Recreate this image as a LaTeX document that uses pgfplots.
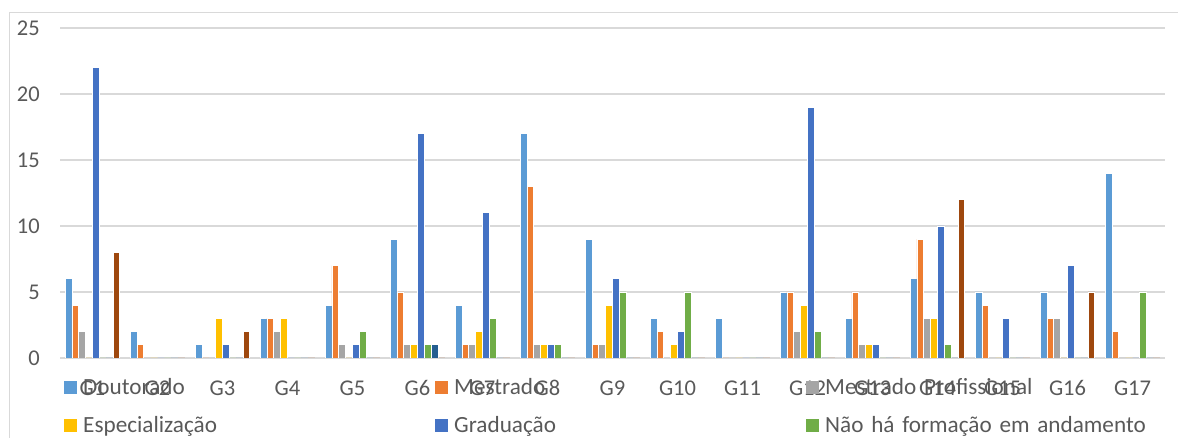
\documentclass[border=0pt]{standalone}
\usepackage{pgfplots}
\pgfplotsset{compat=1.18}
\usepackage{fontspec}
\setmainfont{Carlito}
\definecolor{c1}{HTML}{5B9BD5}
\definecolor{c2}{HTML}{ED7D31}
\definecolor{c3}{HTML}{A5A5A5}
\definecolor{c4}{HTML}{FFC000}
\definecolor{c5}{HTML}{4472C4}
\definecolor{c6}{HTML}{70AD47}
\definecolor{c7}{HTML}{255E91}
\definecolor{c8}{HTML}{9E480E}
\definecolor{txt}{HTML}{595959}
\definecolor{gridc}{HTML}{D9D9D9}
\pgfplotsset{
  mybar/.style={ybar, bar width=6.84pt, draw=white, line width=0.75pt,
    legend image code/.code={\fill[##1, draw=none] (0pt,-6.5pt) rectangle (13pt,6.5pt);}},
}
\begin{document}
\begin{tikzpicture}[x=1pt,y=1pt]
\draw[gridc, line width=1pt] (9.5,-20) rectangle (1200,425);
\begin{axis}[
  at={(60pt,80pt)}, anchor=south west,
  scale only axis, width=1105pt, height=330pt,
  xmin=-0.5, xmax=16.5, ymin=0, ymax=25,
  ytick={0,5,10,15,20,25},
  xtick={0,1,2,3,4,5,6,7,8,9,10,11,12,13,14,15,16},
  xticklabels={G1,G2,G3,G4,G5,G6,G7,G8,G9,G10,G11,G12,G13,G14,G15,G16,G17},
  axis line style={draw=none},
  major tick length=0pt,
  ymajorgrids,
  major grid style={gridc, line width=1.5pt},
  /pgf/number format/assume math mode=true,
  ticklabel style={font=\fontsize{22.5}{26}\selectfont, text=txt},
  xticklabel style={anchor=center, yshift=-30pt},
  yticklabel style={anchor=east, xshift=-16.7pt},
  legend columns=3,
  legend cell align=left,
  legend style={at={(0,0)}, anchor=north west, xshift=4pt, yshift=-19.5pt,
    draw=none, fill=none, inner sep=0pt,
    font=\fontsize{23.2}{27}\selectfont, text=txt,
    nodes={inner xsep=6pt, inner ysep=0pt, text height=17pt, text depth=3pt, text width=346pt, align=left},
    row sep=18pt},
]
% G1..G17
\addplot[mybar, bar shift=-23.94pt, fill=c1] coordinates {(0,6) (1,2) (2,1) (3,3) (4,4) (5,9) (6,4) (7,17) (8,9) (9,3) (10,3) (11,5) (12,3) (13,6) (14,5) (15,5) (16,14)};
\addlegendentry{Doutorado}
\addplot[mybar, bar shift=-17.1pt, fill=c2] coordinates {(0,4) (1,1) (2,0) (3,3) (4,7) (5,5) (6,1) (7,13) (8,1) (9,2) (10,0) (11,5) (12,5) (13,9) (14,4) (15,3) (16,2)};
\addlegendentry{Mestrado}
\addplot[mybar, bar shift=-10.26pt, fill=c3] coordinates {(0,2) (1,0) (2,0) (3,2) (4,1) (5,1) (6,1) (7,1) (8,1) (9,0) (10,0) (11,2) (12,1) (13,3) (14,0) (15,3) (16,0)};
\addlegendentry{Mestrado Profissional}
\addplot[mybar, bar shift=-3.42pt, fill=c4] coordinates {(0,0) (1,0) (2,3) (3,3) (4,0) (5,1) (6,2) (7,1) (8,4) (9,1) (10,0) (11,4) (12,1) (13,3) (14,0) (15,0) (16,0)};
\addlegendentry{Especialização}
\addplot[mybar, bar shift=3.42pt, fill=c5] coordinates {(0,22) (1,0) (2,1) (3,0) (4,1) (5,17) (6,11) (7,1) (8,6) (9,2) (10,0) (11,19) (12,1) (13,10) (14,3) (15,7) (16,0)};
\addlegendentry{Graduação}
\addplot[mybar, bar shift=10.26pt, fill=c6] coordinates {(0,0) (1,0) (2,0) (3,0) (4,2) (5,1) (6,3) (7,1) (8,5) (9,5) (10,0) (11,2) (12,0) (13,1) (14,0) (15,0) (16,5)};
\addlegendentry{Não há formação em andamento}
\addplot[mybar, bar shift=17.1pt, fill=c7] coordinates {(0,0) (1,0) (2,0) (3,0) (4,0) (5,1) (6,0) (7,0) (8,0) (9,0) (10,0) (11,0) (12,0) (13,0) (14,0) (15,0) (16,0)};
\addplot[mybar, bar shift=23.94pt, fill=c8] coordinates {(0,8) (1,0) (2,2) (3,0) (4,0) (5,0) (6,0) (7,0) (8,0) (9,0) (10,0) (11,0) (12,0) (13,12) (14,0) (15,5) (16,0)};
\end{axis}
\pgfresetboundingbox
\useasboundingbox (0,0) rectangle (1178,438);
\end{tikzpicture}
\end{document}
